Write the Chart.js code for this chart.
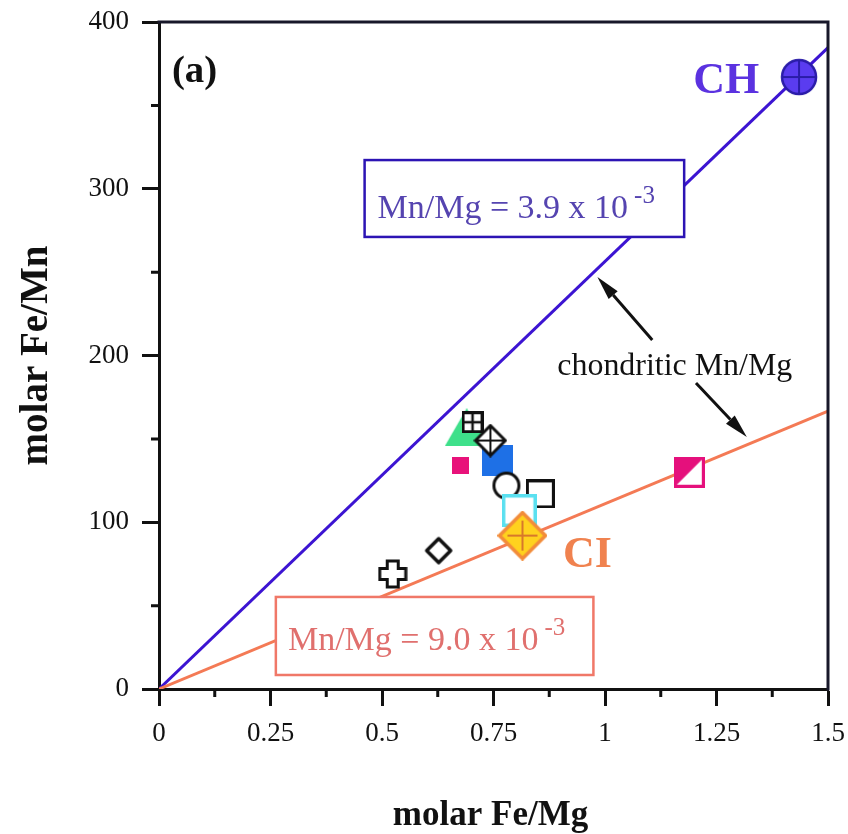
<!DOCTYPE html>
<html>
<head>
<meta charset="utf-8">
<script src="https://cdn.jsdelivr.net/npm/chart.js@4/dist/chart.umd.min.js"></script>
<style>
  html, body { margin: 0; padding: 0; background: #ffffff; }
  #wrap { width: 848px; height: 834px; }
</style>
</head>
<body>
<div id="wrap"><canvas id="c" width="848" height="834"></canvas></div>
<script>
// ---- values ----
const xTickLabels = ['0', '0.25', '0.5', '0.75', '1', '1.25', '1.5'];
const yTickLabels = ['0', '100', '200', '300', '400'];
const xTitle = 'molar Fe/Mg';
const yTitle = 'molar Fe/Mn';

// chondritic Mn/Mg ratios that define the two reference lines
const ratioCH = 3.9e-3;
const ratioCI = 9.0e-3;
const lineFeMg = [0, 1.5];

// meteorite / sample points: molar Fe/Mg vs molar Fe/Mn
const sampleFeMg = [0.690, 0.703, 0.759, 0.743, 0.676, 0.779, 0.855, 0.808, 0.627, 0.524, 1.189];
const sampleFeMn = [157, 160, 137, 149, 134, 122, 117, 107, 83, 69, 130];

// chondrite reference points
const chondriteNames = ['CH', 'CI'];
const chondriteFeMg = [1.435, 0.815];
const chondriteFeMn = [367, 92];

// ---- marker glyphs ----
function glyph(w, h, draw) {
  const c = document.createElement('canvas');
  c.width = w; c.height = h;
  const g = c.getContext('2d');
  g.lineJoin = 'miter';
  draw(g, w, h);
  return c;
}
const M = {
  triangle: glyph(44, 38, (g, w, h) => {
    g.fillStyle = '#3ee08a';
    g.beginPath(); g.moveTo(w / 2, 0); g.lineTo(w, h); g.lineTo(0, h); g.closePath(); g.fill();
  }),
  gridSquare: glyph(22, 22, (g, w, h) => {
    g.fillStyle = '#fff'; g.fillRect(0, 0, w, h);
    g.strokeStyle = '#111'; g.lineWidth = 3;
    g.strokeRect(1.5, 1.5, w - 3, h - 3);
    g.lineWidth = 2.5;
    g.beginPath(); g.moveTo(w / 2, 0); g.lineTo(w / 2, h); g.moveTo(0, h / 2); g.lineTo(w, h / 2); g.stroke();
  }),
  blueSquare: glyph(31, 31, (g, w, h) => {
    g.fillStyle = '#1e70e6'; g.fillRect(0, 0, w, h);
  }),
  diamondCross: glyph(34, 34, (g, w, h) => {
    g.fillStyle = '#fff'; g.strokeStyle = '#111'; g.lineWidth = 3;
    g.beginPath(); g.moveTo(w / 2, 2); g.lineTo(w - 2, h / 2); g.lineTo(w / 2, h - 2); g.lineTo(2, h / 2); g.closePath();
    g.fill(); g.stroke();
    g.lineWidth = 2;
    g.beginPath(); g.moveTo(w / 2, 2); g.lineTo(w / 2, h - 2); g.moveTo(2, h / 2); g.lineTo(w - 2, h / 2); g.stroke();
  }),
  pinkSquare: glyph(17, 17, (g, w, h) => {
    g.fillStyle = '#e8127a'; g.fillRect(0, 0, w, h);
  }),
  openCircle: glyph(30, 30, (g, w, h) => {
    g.fillStyle = '#fff'; g.strokeStyle = '#111'; g.lineWidth = 3;
    g.beginPath(); g.arc(w / 2, h / 2, 12.5, 0, Math.PI * 2); g.fill(); g.stroke();
  }),
  openSquare: glyph(29, 29, (g, w, h) => {
    g.fillStyle = '#fff'; g.fillRect(0, 0, w, h);
    g.strokeStyle = '#111'; g.lineWidth = 3; g.strokeRect(1.5, 1.5, w - 3, h - 3);
  }),
  cyanSquare: glyph(35, 33, (g, w, h) => {
    g.fillStyle = '#fff'; g.fillRect(0, 0, w, h);
    g.strokeStyle = '#5ae0f0'; g.lineWidth = 3.5; g.strokeRect(1.75, 1.75, w - 3.5, h - 3.5);
  }),
  openDiamond: glyph(30, 30, (g, w, h) => {
    g.fillStyle = '#fff'; g.strokeStyle = '#111'; g.lineWidth = 3.5; g.lineJoin = 'round';
    g.beginPath(); g.moveTo(w / 2, 3); g.lineTo(w - 3, h / 2); g.lineTo(w / 2, h - 3); g.lineTo(3, h / 2); g.closePath();
    g.fill(); g.stroke();
  }),
  openPlus: glyph(30, 30, (g, w, h) => {
    const a = 9.5, b = 20.5, p = 2;
    g.fillStyle = '#fff'; g.strokeStyle = '#111'; g.lineWidth = 3;
    g.beginPath();
    g.moveTo(a, p); g.lineTo(b, p); g.lineTo(b, a); g.lineTo(w - p, a); g.lineTo(w - p, b); g.lineTo(b, b);
    g.lineTo(b, h - p); g.lineTo(a, h - p); g.lineTo(a, b); g.lineTo(p, b); g.lineTo(p, a); g.lineTo(a, a);
    g.closePath(); g.fill(); g.stroke();
  }),
  halfSquare: glyph(31, 31, (g, w, h) => {
    g.fillStyle = '#fff'; g.fillRect(0, 0, w, h);
    g.fillStyle = '#e5107c';
    g.beginPath(); g.moveTo(0, 0); g.lineTo(w, 0); g.lineTo(0, h); g.closePath(); g.fill();
    g.strokeStyle = '#e5107c'; g.lineWidth = 3; g.strokeRect(1.5, 1.5, w - 3, h - 3);
  }),
  chCircle: glyph(38, 38, (g, w, h) => {
    g.fillStyle = '#5a3cf0'; g.strokeStyle = '#2a1ca8'; g.lineWidth = 2.5;
    g.beginPath(); g.arc(w / 2, h / 2, 17, 0, Math.PI * 2); g.fill(); g.stroke();
    g.lineWidth = 2;
    g.beginPath(); g.moveTo(w / 2, 2); g.lineTo(w / 2, h - 2); g.moveTo(2, h / 2); g.lineTo(w - 2, h / 2); g.stroke();
  }),
  ciDiamond: glyph(50, 50, (g, w, h) => {
    g.fillStyle = '#ffd21e'; g.strokeStyle = '#f28c3a'; g.lineWidth = 3.5;
    g.beginPath(); g.moveTo(w / 2, 2); g.lineTo(w - 2, h / 2); g.lineTo(w / 2, h - 2); g.lineTo(2, h / 2); g.closePath();
    g.fill(); g.stroke();
    g.strokeStyle = '#d8782a'; g.lineWidth = 2;
    g.beginPath(); g.moveTo(w / 2, 10); g.lineTo(w / 2, h - 10); g.moveTo(10, h / 2); g.lineTo(w - 10, h / 2); g.stroke();
  })
};
const sampleGlyphs = [M.triangle, M.gridSquare, M.blueSquare, M.diamondCross, M.pinkSquare, M.openCircle,
                      M.openSquare, M.cyanSquare, M.openDiamond, M.openPlus, M.halfSquare];
const chondriteGlyphs = [M.chCircle, M.ciDiamond];

const serif = "'Liberation Serif', 'Times New Roman', Times, serif";
const ink = '#111111';

// ---- drawing helpers ----
function text(ctx, str, x, y, font, sx, align, angle) {
  ctx.save();
  ctx.translate(x, y);
  if (angle) ctx.rotate(angle);
  ctx.scale(sx, 1);
  ctx.font = font;
  ctx.textAlign = align;
  ctx.textBaseline = 'alphabetic';
  ctx.fillText(str, 0, 0);
  ctx.restore();
}
function arrow(ctx, x0, y0, x1, y1) {
  const ang = Math.atan2(y1 - y0, x1 - x0), L = 24, W = 6;
  const bx = x1 - Math.cos(ang) * L, by = y1 - Math.sin(ang) * L;
  ctx.strokeStyle = ink; ctx.fillStyle = ink; ctx.lineWidth = 3;
  ctx.beginPath(); ctx.moveTo(x0, y0); ctx.lineTo(bx, by); ctx.stroke();
  ctx.beginPath();
  ctx.moveTo(x1, y1);
  ctx.lineTo(bx - Math.sin(ang) * W, by + Math.cos(ang) * W);
  ctx.lineTo(bx + Math.sin(ang) * W, by - Math.cos(ang) * W);
  ctx.closePath(); ctx.fill();
}
function ratioBox(ctx, X, Y, box, main, sup, edge, color) {
  const x0 = X(box[0]), x1 = X(box[1]), y0 = Y(box[2]), y1 = Y(box[3]);
  ctx.fillStyle = '#ffffff'; ctx.fillRect(x0, y0, x1 - x0, y1 - y0);
  ctx.strokeStyle = edge; ctx.lineWidth = 2.5; ctx.strokeRect(x0, y0, x1 - x0, y1 - y0);
  const tx = X(box[4]), ty = Y(box[5]);
  ctx.fillStyle = color; ctx.textAlign = 'left'; ctx.textBaseline = 'alphabetic';
  ctx.font = '34px ' + serif;
  ctx.fillText(main, tx, ty);
  const w = ctx.measureText(main).width;
  ctx.font = '25px ' + serif;
  ctx.fillText(sup, tx + w + 6, ty - 15);
}

// ---- annotations: frame, minor ticks, axis titles, ratio boxes, labels, arrows ----
const annotate = {
  id: 'annotate',
  afterDatasetsDraw(chart) {
    const { ctx, chartArea: a, scales: { x, y } } = chart;
    const X = v => x.getPixelForValue(v), Y = v => y.getPixelForValue(v);
    ctx.save();

    // closing frame on top and right
    ctx.strokeStyle = '#18182a'; ctx.lineWidth = 3;
    ctx.beginPath(); ctx.moveTo(a.left - 1.5, a.top); ctx.lineTo(a.right, a.top); ctx.lineTo(a.right, a.bottom + 1.5); ctx.stroke();

    // minor ticks halfway between labelled ticks
    ctx.strokeStyle = ink; ctx.lineWidth = 3;
    ctx.beginPath();
    for (let i = 1; i < x.ticks.length; i++) {
      const px = X((x.ticks[i - 1].value + x.ticks[i].value) / 2);
      ctx.moveTo(px, a.bottom); ctx.lineTo(px, a.bottom + 8);
    }
    for (let i = 1; i < y.ticks.length; i++) {
      const py = Y((y.ticks[i - 1].value + y.ticks[i].value) / 2);
      ctx.moveTo(a.left, py); ctx.lineTo(a.left - 8, py);
    }
    ctx.stroke();

    // axis titles
    ctx.fillStyle = ink;
    text(ctx, xTitle, (a.left + a.right) / 2 - 3, a.bottom + 136, 'bold 35px ' + serif, 1, 'center', 0);
    text(ctx, yTitle, a.left - 112, (a.top + a.bottom) / 2, 'bold 39px ' + serif, 1, 'center', -Math.PI / 2);

    // ratio boxes sit over the reference lines
    ratioBox(ctx, X, Y, [0.461, 1.1775, 317.2, 271.1, 0.490, 282.5], 'Mn/Mg = 3.9 x 10', '-3', '#2c14b4', '#5544b0');
    ratioBox(ctx, X, Y, [0.262, 0.974, 55.2, 8.4, 0.289, 23.4], 'Mn/Mg = 9.0 x 10', '-3', '#f07868', '#e0706e');

    // panel letter and chondrite group labels
    ctx.fillStyle = ink;
    text(ctx, '(a)', X(0.029), Y(364), 'bold 37px ' + serif, 1.05, 'left', 0);
    ctx.fillStyle = '#5b32e0';
    text(ctx, chondriteNames[0], X(1.2716), Y(357.4), 'bold 44px ' + serif, 1, 'center', 0);
    ctx.fillStyle = '#f0824f';
    text(ctx, chondriteNames[1], X(0.9604), Y(73.2), 'bold 44px ' + serif, 1, 'center', 0);

    // pointer to both reference lines
    ctx.fillStyle = ink;
    text(ctx, 'chondritic Mn/Mg', X(0.893), Y(188.3), '31px ' + serif, 1.03, 'left', 0);
    arrow(ctx, X(1.106), Y(209.3), X(0.983), Y(247.1));
    arrow(ctx, X(1.204), Y(183.5), X(1.318), Y(151.1));

    ctx.restore();
  }
};

// ---- chart ----
new Chart(document.getElementById('c'), {
  type: 'scatter',
  data: {
    datasets: [
      {
        label: 'chondrites',
        data: chondriteFeMg.map((v, i) => ({ x: v, y: chondriteFeMn[i] })),
        pointStyle: chondriteGlyphs,
        pointRadius: 12,
        order: 0
      },
      {
        label: 'samples',
        data: sampleFeMg.map((v, i) => ({ x: v, y: sampleFeMn[i] })),
        pointStyle: sampleGlyphs,
        pointRadius: 12,
        order: 1
      },
      {
        label: 'CI Mn/Mg',
        data: lineFeMg.map(v => ({ x: v, y: v / ratioCI })),
        showLine: true, pointRadius: 0,
        borderColor: '#f47a55', borderWidth: 3,
        order: 2
      },
      {
        label: 'CH Mn/Mg',
        data: lineFeMg.map(v => ({ x: v, y: v / ratioCH })),
        showLine: true, pointRadius: 0,
        borderColor: '#3c14d2', borderWidth: 3,
        order: 3
      }
    ]
  },
  options: {
    responsive: false,
    animation: false,
    events: [],
    layout: { padding: { top: 22, right: 20, left: 0, bottom: 0 } },
    plugins: { legend: { display: false }, tooltip: { enabled: false } },
    scales: {
      x: {
        type: 'linear', min: 0, max: 1.5,
        afterFit: s => { s.height = 145; s.paddingLeft = 0; s.paddingRight = 0; },
        border: { display: true, color: ink, width: 3 },
        grid: { display: true, drawOnChartArea: false, drawTicks: true, tickLength: 17, tickWidth: 3, tickColor: ink },
        ticks: {
          stepSize: 0.25, autoSkip: false, maxRotation: 0, padding: 12,
          color: ink, font: { family: serif, size: 27 },
          callback: (v, i) => xTickLabels[i]
        },
        title: { display: false }
      },
      y: {
        type: 'linear', min: 0, max: 400,
        afterFit: s => { s.width = 159; s.paddingTop = 0; s.paddingBottom = 0; },
        border: { display: true, color: ink, width: 3 },
        grid: { display: true, drawOnChartArea: false, drawTicks: true, tickLength: 17, tickWidth: 3, tickColor: ink },
        ticks: {
          stepSize: 100, autoSkip: false, padding: 13,
          color: ink, font: { family: serif, size: 27 },
          callback: (v, i) => yTickLabels[i]
        },
        title: { display: false }
      }
    }
  },
  plugins: [annotate]
});
</script>
</body>
</html>
